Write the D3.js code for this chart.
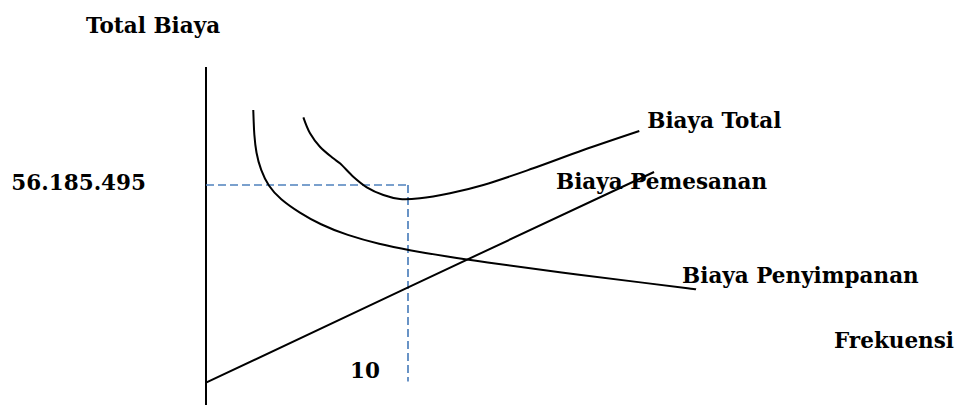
<!DOCTYPE html>
<html>
<head>
<meta charset="utf-8">
<script src="https://cdn.jsdelivr.net/npm/d3@7/dist/d3.min.js"></script>
<style>
  html, body { margin: 0; padding: 0; background: #fff; }
  svg { display: block; }
  text { font-family: "DejaVu Serif", "Liberation Serif", serif; font-weight: bold; fill: #000; }
</style>
</head>
<body>
<svg id="chart" width="956" height="405"></svg>
<script>
// ---- data (frequency in orders, cost in millions) ----
const seriesNames = ["Biaya Total", "Biaya Pemesanan", "Biaya Penyimpanan"];

const totalFreq = [4.82, 5.15, 5.64, 6.30, 6.63, 7.29, 7.96, 8.78, 9.60, 10.59, 12.08, 13.73, 16.20, 18.68, 21.45];
const totalCost = [73.47, 69.39, 65.96, 63.00, 61.72, 58.30, 55.59, 53.63, 52.61, 52.78, 54.06, 56.18, 60.45, 65.12, 69.98];

const orderFreq = [0, 9.98, 22.18];
const orderCost = [5.7, 30.0, 59.5];

const holdFreq = [2.34, 2.36, 2.38, 2.48, 2.71, 3.08, 3.66, 4.65, 5.64, 6.97, 8.61, 10.01, 11.92, 13.56, 17.52, 21.98, 24.20, 24.26];
const holdCost = [75.34, 72.50, 69.39, 64.28, 60.02, 55.93, 52.61, 49.03, 46.15, 43.36, 41.04, 39.58, 37.92, 36.65, 33.89, 31.00, 29.63, 29.55];

const optimumFreq = 10;
const optimumCost = 56.185495;
const xTickLabels = ["10"];
const yTickLabels = ["56.185.495"];
const yAxisTitle = "Total Biaya";
const xAxisTitle = "Frekuensi";

// ---- scales ----
const svg = d3.select("#chart");
const x = d3.scaleLinear().domain([0, 10]).range([206, 408]);
const y = d3.scaleLinear().domain([0, 100]).range([405, 405 - 100 * (220 / 56.185495)]);

const zip = (a, b) => a.map((v, i) => [v, b[i]]);
const series = [
  { name: seriesNames[0], pts: zip(totalFreq, totalCost), curve: d3.curveCatmullRom.alpha(0.5) },
  { name: seriesNames[1], pts: zip(orderFreq, orderCost), curve: d3.curveLinear },
  { name: seriesNames[2], pts: zip(holdFreq, holdCost), curve: d3.curveBasis }
];

// ---- y axis line ----
svg.append("line")
  .attr("x1", x(0)).attr("x2", x(0))
  .attr("y1", 67).attr("y2", 405)
  .attr("stroke", "#000").attr("stroke-width", 2);

// ---- optimum dashed guides ----
const dash = { stroke: "#4f81bd", w: 1.7, arr: "8,4" };
svg.append("line")
  .attr("x1", x(0)).attr("x2", x(optimumFreq))
  .attr("y1", y(optimumCost)).attr("y2", y(optimumCost))
  .attr("stroke", dash.stroke).attr("stroke-width", dash.w).attr("stroke-dasharray", dash.arr);
svg.append("line")
  .attr("x1", x(optimumFreq)).attr("x2", x(optimumFreq))
  .attr("y1", y(optimumCost)).attr("y2", y(6))
  .attr("stroke", dash.stroke).attr("stroke-width", dash.w).attr("stroke-dasharray", dash.arr);

// ---- curves ----
svg.selectAll("path.curve").data(series).enter().append("path")
  .attr("class", "curve")
  .attr("d", d => d3.line().x(p => x(p[0])).y(p => y(p[1])).curve(d.curve)(d.pts))
  .attr("fill", "none").attr("stroke", "#000").attr("stroke-width", 2);

// ---- texts ----
const fs = 21.5;
svg.append("text").attr("x", 86).attr("y", 33).attr("font-size", fs).text(yAxisTitle);
svg.append("text").attr("x", 954).attr("y", 348).attr("text-anchor", "end").attr("font-size", fs).text(xAxisTitle);
svg.append("text").attr("x", 146).attr("y", y(optimumCost) + 5).attr("text-anchor", "end").attr("font-size", fs).text(yTickLabels[0]);
svg.append("text").attr("x", x(optimumFreq) - 28).attr("y", 378).attr("text-anchor", "end").attr("font-size", fs).text(xTickLabels[0]);

const labelPos = [
  { dx: 8, dy: -3 },
  { dx: -98, dy: 17 },
  { dx: -14, dy: -6 }
];
series.forEach((s, i) => {
  const last = s.pts[s.pts.length - 1];
  svg.insert("text", "path.curve")
    .attr("x", x(last[0]) + labelPos[i].dx)
    .attr("y", y(last[1]) + labelPos[i].dy)
    .attr("font-size", fs)
    .text(s.name);
});
</script>
</body>
</html>
